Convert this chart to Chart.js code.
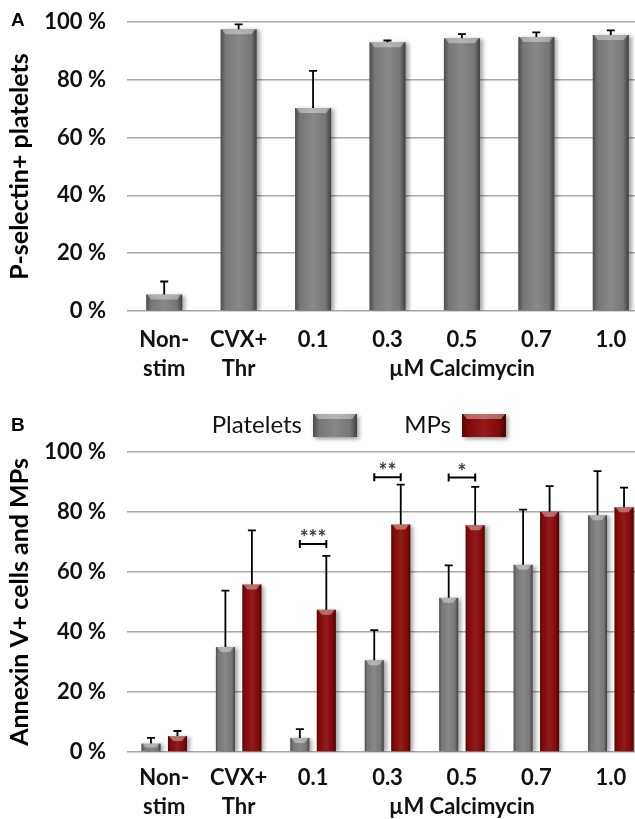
<!DOCTYPE html>
<html>
<head>
<meta charset="utf-8">
<script src="https://cdn.jsdelivr.net/npm/chart.js@4.4.1/dist/chart.umd.min.js"></script>
<style>
  html, body { margin: 0; padding: 0; background: #fff; overflow: hidden; width: 635px; height: 819px; }
  .panel { position: absolute; left: 0; }
  .tag { position: absolute; left: 11px; font: bold 19px "Liberation Sans", Arial, sans-serif; color: #000; }
</style>
</head>
<body>
<canvas id="chartA" class="panel" style="top:0" width="660" height="395"></canvas>
<canvas id="chartB" class="panel" style="top:395px" width="660" height="424"></canvas>
<div class="tag" style="top:9px">A</div>
<div class="tag" style="top:414px">B</div>
<script>
// --- data ---
const categories = [['Non-', 'stim'], ['CVX+', 'Thr'], '0.1', '0.3', ['0.5', 'µM Calcimycin'], '0.7', '1.0'];
const yTicks = [0, 20, 40, 60, 80, 100];

// panel A: P-selectin+ platelets (%), mean and SD
const pSelectin   = [5.7, 97.5, 70.2, 93.0, 94.4, 94.8, 95.5];
const pSelectinSD = [4.5, 1.7, 12.9, 0.6, 1.4, 1.6, 1.6];

// panel B: Annexin V+ (%)
const platelets   = [2.8, 35.0, 4.7, 30.6, 51.4, 62.4, 78.9];
const plateletsSD = [1.9, 18.8, 2.9, 10.0, 10.8, 18.4, 14.7];
const mps         = [5.3, 55.8, 47.4, 75.8, 75.6, 80.1, 81.6];
const mpsSD       = [1.7, 18.1, 18.0, 13.3, 12.8, 8.5, 6.5];

// significance between platelets and MPs
const sigIndex = [2, 3, 4];
const sigStars = ['***', '**', '*'];
const sigLevel = [69.3, 91.6, 91.5];

const GRAY = '#7f7f7f';
const RED = '#8c0a0a';
const TICK_FONT = { family: 'Lato', weight: 'bold', size: 22, lineHeight: 1.32 };
const TITLE_FONT = { family: 'Lato', weight: 'bold', size: 25 };

// shade a bar-like rectangle so it looks like the bevelled Excel bars
function shade(ctx, l, top, w, h) {
  const g = ctx.createLinearGradient(l, 0, l + w, 0);
  g.addColorStop(0, 'rgba(0,0,0,0.40)');
  g.addColorStop(0.14, 'rgba(0,0,0,0.06)');
  g.addColorStop(0.5, 'rgba(255,255,255,0.07)');
  g.addColorStop(0.84, 'rgba(0,0,0,0.06)');
  g.addColorStop(1, 'rgba(0,0,0,0.50)');
  ctx.fillStyle = g;
  ctx.fillRect(l, top, w, h);
  const b = Math.min(5, h / 2);
  ctx.beginPath();
  ctx.moveTo(l + 1, top);
  ctx.lineTo(l + w - 1, top);
  ctx.lineTo(l + w - b, top + b);
  ctx.lineTo(l + b, top + b);
  ctx.closePath();
  ctx.fillStyle = 'rgba(255,255,255,0.38)';
  ctx.fill();
}

const bevel = {
  id: 'bevel',
  beforeDatasetDraw(chart) {
    const ctx = chart.ctx;
    ctx.save();
    ctx.shadowColor = 'rgba(0,0,0,0.35)';
    ctx.shadowBlur = 4;
    ctx.shadowOffsetX = 3;
    ctx.shadowOffsetY = 1;
  },
  afterDatasetDraw(chart, args) {
    const ctx = chart.ctx;
    ctx.restore();
    ctx.save();
    args.meta.data.forEach(bar => {
      const p = bar.getProps(['x', 'y', 'base', 'width'], true);
      shade(ctx, p.x - p.width / 2, p.y, p.width, p.base - p.y);
    });
    ctx.restore();
  }
};

const errorBars = {
  id: 'errorBars',
  afterDatasetsDraw(chart) {
    const ctx = chart.ctx, yS = chart.scales.y;
    ctx.save();
    ctx.strokeStyle = '#000';
    ctx.lineWidth = 1.8;
    chart.data.datasets.forEach((ds, i) => {
      chart.getDatasetMeta(i).data.forEach((bar, j) => {
        const top = yS.getPixelForValue(ds.data[j] + ds.sd[j]);
        ctx.beginPath();
        ctx.moveTo(bar.x, bar.y);
        ctx.lineTo(bar.x, top);
        ctx.moveTo(bar.x - 4, top);
        ctx.lineTo(bar.x + 4, top);
        ctx.stroke();
      });
    });
    ctx.restore();
  }
};

const significance = {
  id: 'significance',
  afterDatasetsDraw(chart) {
    const ctx = chart.ctx, yS = chart.scales.y;
    const a = chart.getDatasetMeta(0).data, b = chart.getDatasetMeta(1).data;
    ctx.save();
    ctx.strokeStyle = '#000';
    ctx.lineWidth = 2;
    sigIndex.forEach((k, n) => {
      const x1 = a[k].x, x2 = b[k].x, y = yS.getPixelForValue(sigLevel[n]);
      ctx.beginPath();
      ctx.moveTo(x1, y); ctx.lineTo(x2, y);
      ctx.moveTo(x1, y - 4); ctx.lineTo(x1, y + 4);
      ctx.moveTo(x2, y - 4); ctx.lineTo(x2, y + 4);
      ctx.stroke();
      ctx.fillStyle = '#3a3a3a';
      ctx.font = 'bold 21px Lato';
      ctx.textAlign = 'center';
      ctx.textBaseline = 'alphabetic';
      ctx.fillText(sigStars[n], (x1 + x2) / 2, y + 1);
    });
    ctx.restore();
  }
};

// legend: label then bevelled box, like the original
const boxLegend = {
  id: 'boxLegend',
  afterDraw(chart, args, opts) {
    const ctx = chart.ctx;
    ctx.save();
    chart.data.datasets.forEach((ds, i) => {
      const l = opts.left[i], t = opts.top, w = opts.width, h = opts.height;
      ctx.shadowColor = 'rgba(0,0,0,0.4)';
      ctx.shadowBlur = 4;
      ctx.shadowOffsetX = 2;
      ctx.shadowOffsetY = 2;
      ctx.fillStyle = ds.backgroundColor;
      ctx.fillRect(l, t, w, h);
      ctx.shadowColor = 'transparent';
      shade(ctx, l, t, w, h);
      ctx.fillStyle = '#111';
      ctx.font = '24px Lato';
      ctx.textAlign = 'right';
      ctx.textBaseline = 'middle';
      ctx.fillText(ds.label, l - 11, t + h / 2);
    });
    ctx.restore();
  }
};

function yScale(title, width) {
  return {
    min: 0, max: 100,
    afterBuildTicks(scale) { scale.ticks = yTicks.map(v => ({ value: v })); },
    ticks: { padding: 21, color: '#111', font: TICK_FONT, callback: v => v + ' %' },
    grid: { color: '#a8a8a8', lineWidth: 1.5, drawTicks: false },
    border: { display: false },
    title: { display: true, text: title, color: '#000', font: TITLE_FONT, padding: { top: 5, bottom: 0 } },
    afterFit(scale) {
      scale.width = width;
      scale.paddingTop = 0;
      scale.paddingBottom = 0;
    }
  };
}

function xScale(height, pad) {
  return {
    grid: { display: false },
    border: { display: false },
    ticks: { padding: pad, color: '#111', font: TICK_FONT, maxRotation: 0, autoSkip: false },
    afterFit(scale) { scale.height = height; }
  };
}

new Chart(document.getElementById('chartA'), {
  type: 'bar',
  data: {
    labels: categories,
    datasets: [{ label: 'P-selectin+ platelets', data: pSelectin, sd: pSelectinSD, backgroundColor: GRAY,
      borderWidth: 0, categoryPercentage: 1, barPercentage: 0.484 }]
  },
  options: {
    responsive: false,
    animation: false,
    layout: { padding: { top: 22, right: 12, left: 0, bottom: 0 } },
    plugins: { legend: { display: false }, tooltip: { enabled: false } },
    scales: { x: xScale(84, 6), y: yScale('P-selectin+ platelets', 127) }
  },
  plugins: [bevel, errorBars]
});

new Chart(document.getElementById('chartB'), {
  type: 'bar',
  data: {
    labels: categories,
    datasets: [
      { label: 'Platelets', data: platelets, sd: plateletsSD, backgroundColor: GRAY, borderWidth: 0,
        categoryPercentage: 0.712, barPercentage: 0.717 },
      { label: 'MPs', data: mps, sd: mpsSD, backgroundColor: RED, borderWidth: 0,
        categoryPercentage: 0.712, barPercentage: 0.717 }
    ]
  },
  options: {
    responsive: false,
    animation: false,
    layout: { padding: { top: 57, right: 12, left: 0, bottom: 0 } },
    plugins: {
      legend: { display: false }, tooltip: { enabled: false },
      boxLegend: { left: [313, 462], top: 19, width: 44, height: 23 }
    },
    scales: { x: xScale(67, 3), y: yScale('Annexin V+ cells and MPs', 127) }
  },
  plugins: [bevel, errorBars, significance, boxLegend]
});
</script>
</body>
</html>
